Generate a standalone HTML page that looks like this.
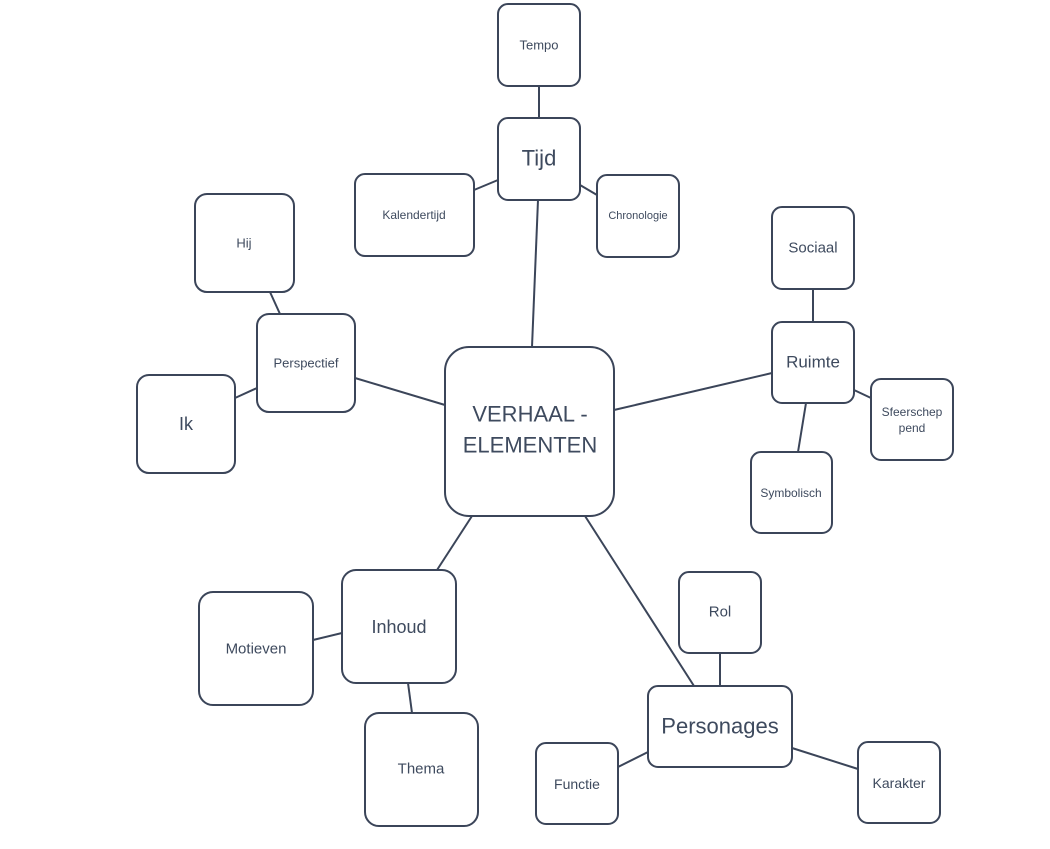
<!DOCTYPE html>
<html><head><meta charset="utf-8"><style>html,body{margin:0;padding:0;background:#fff}svg{display:block}text{font-family:"Liberation Sans",sans-serif;fill:#3e4a5e;text-anchor:middle;dominant-baseline:central}</style></head><body>
<svg width="1050" height="849" viewBox="0 0 1050 849">
<g stroke="#3b4559" stroke-width="2" fill="none">
<line x1="539" y1="86" x2="539" y2="118"/>
<line x1="498" y1="180" x2="474" y2="190"/>
<line x1="580" y1="185" x2="597" y2="195"/>
<line x1="538" y1="200" x2="532" y2="347"/>
<line x1="270" y1="292" x2="280" y2="314"/>
<line x1="257" y1="388" x2="235" y2="398"/>
<line x1="355" y1="378" x2="445" y2="405"/>
<line x1="614" y1="410" x2="772" y2="373"/>
<line x1="813" y1="289" x2="813" y2="322"/>
<line x1="854" y1="390" x2="871" y2="398"/>
<line x1="806" y1="403" x2="798" y2="452"/>
<line x1="472" y1="516" x2="437" y2="570"/>
<line x1="342" y1="633" x2="313" y2="640"/>
<line x1="408" y1="683" x2="412" y2="713"/>
<line x1="585" y1="516" x2="694" y2="686"/>
<line x1="720" y1="653" x2="720" y2="686"/>
<line x1="648" y1="752" x2="618" y2="767"/>
<line x1="792" y1="748" x2="858" y2="769"/>
</g>
<g stroke="#3b4559" stroke-width="2" fill="#fff">
<rect x="498" y="4" width="82" height="82" rx="10"/>
<rect x="498" y="118" width="82" height="82" rx="10"/>
<rect x="355" y="174" width="119" height="82" rx="10"/>
<rect x="597" y="175" width="82" height="82" rx="10"/>
<rect x="195" y="194" width="99" height="98" rx="12"/>
<rect x="257" y="314" width="98" height="98" rx="12"/>
<rect x="137" y="375" width="98" height="98" rx="12"/>
<rect x="445" y="347" width="169" height="169" rx="24"/>
<rect x="772" y="207" width="82" height="82" rx="10"/>
<rect x="772" y="322" width="82" height="81" rx="10"/>
<rect x="871" y="379" width="82" height="81" rx="10"/>
<rect x="751" y="452" width="81" height="81" rx="10"/>
<rect x="342" y="570" width="114" height="113" rx="14"/>
<rect x="199" y="592" width="114" height="113" rx="14"/>
<rect x="365" y="713" width="113" height="113" rx="14"/>
<rect x="679" y="572" width="82" height="81" rx="10"/>
<rect x="648" y="686" width="144" height="81" rx="10"/>
<rect x="536" y="743" width="82" height="81" rx="10"/>
<rect x="858" y="742" width="82" height="81" rx="10"/>
</g>
<text x="539" y="45" font-size="13">Tempo</text>
<text x="539" y="158" font-size="22">Tijd</text>
<text x="414" y="215" font-size="12">Kalendertijd</text>
<text x="638" y="216" font-size="11">Chronologie</text>
<text x="244" y="243" font-size="13">Hij</text>
<text x="306" y="363" font-size="13">Perspectief</text>
<text x="186" y="424" font-size="18">Ik</text>
<text x="530" y="414" font-size="22">VERHAAL -</text>
<text x="530" y="445" font-size="22">ELEMENTEN</text>
<text x="813" y="248" font-size="15">Sociaal</text>
<text x="813" y="362" font-size="17">Ruimte</text>
<text x="912" y="412" font-size="12">Sfeerschep</text>
<text x="912" y="428" font-size="12">pend</text>
<text x="791" y="493" font-size="12">Symbolisch</text>
<text x="399" y="627" font-size="18">Inhoud</text>
<text x="256" y="649" font-size="15">Motieven</text>
<text x="421" y="769" font-size="15">Thema</text>
<text x="720" y="612" font-size="15">Rol</text>
<text x="720" y="726" font-size="22">Personages</text>
<text x="577" y="784" font-size="14">Functie</text>
<text x="899" y="783" font-size="14">Karakter</text>
</svg>
</body></html>
